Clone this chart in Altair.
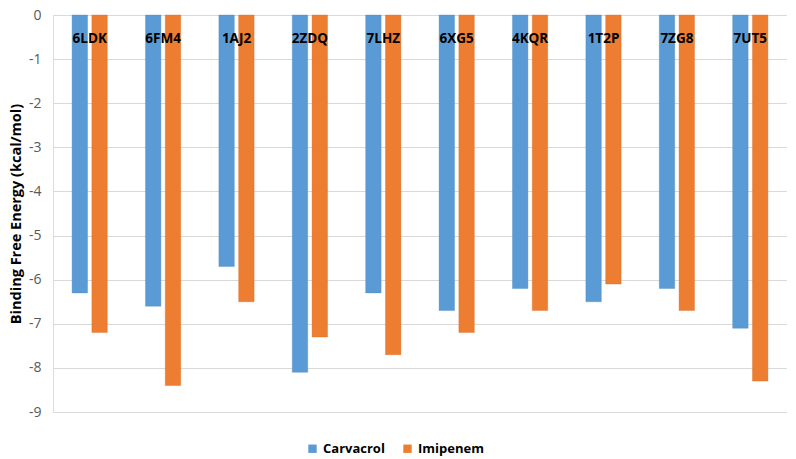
import altair as alt
import pandas as pd

proteins = ["6LDK", "6FM4", "1AJ2", "2ZDQ", "7LHZ", "6XG5", "4KQR", "1T2P", "7ZG8", "7UT5"]
carvacrol = [-6.3, -6.6, -5.7, -8.1, -6.3, -6.7, -6.2, -6.5, -6.2, -7.1]
imipenem = [-7.2, -8.4, -6.5, -7.3, -7.7, -7.2, -6.7, -6.1, -6.7, -8.3]
series = ["Carvacrol", "Imipenem"]
colors = ["#5b9bd5", "#ed7d31"]
y_ticks = [0, -1, -2, -3, -4, -5, -6, -7, -8, -9]

rows = []
for p, c, i in zip(proteins, carvacrol, imipenem):
    rows.append({"protein": p, "ligand": series[0], "energy": c})
    rows.append({"protein": p, "ligand": series[1], "energy": i})
df = pd.DataFrame(rows)

FONT = "Open Sans"

chart = alt.Chart(df).mark_bar(strokeWidth=0.6, strokeOpacity=0.6).encode(
    x=alt.X("protein:N", sort=proteins,
            scale=alt.Scale(paddingInner=0.52, paddingOuter=0.26),
            axis=alt.Axis(orient="top", title=None, domain=False, ticks=False,
                          grid=False, labelAngle=0, labelPadding=-23,
                          labelBaseline="middle", labelFont=FONT,
                          labelFontSize=13.5, labelFontWeight="bold",
                          labelColor="#000000", zindex=1)),
    xOffset=alt.XOffset("ligand:N", sort=series,
                        scale=alt.Scale(paddingInner=0.22)),
    y=alt.Y("energy:Q",
            scale=alt.Scale(domain=[-9, 0], nice=False),
            axis=alt.Axis(values=y_ticks, title="Binding Free Energy (kcal/mol)",
                          labelExpr="toString(datum.value)",
                          titleFont=FONT, titleFontSize=14.5, titleFontWeight="bold",
                          titleColor="#000000", titlePadding=5,
                          labelFont=FONT, labelFontSize=14, labelColor="#595959",
                          labelPadding=12, domain=False, ticks=False,
                          gridColor="#d9d9d9", gridWidth=1)),
    color=alt.Color("ligand:N", sort=series,
                    scale=alt.Scale(domain=series, range=colors),
                    legend=alt.Legend(orient="none", legendX=253, legendY=427,
                                      direction="horizontal",
                                      title=None, symbolType="square",
                                      symbolSize=70, symbolStrokeWidth=0,
                                      labelFont=FONT, labelFontSize=13,
                                      labelFontWeight="bold", labelColor="#000000",
                                      columnPadding=16)),
    stroke=alt.Stroke("ligand:N", sort=series,
                      scale=alt.Scale(domain=series, range=["#4a86bf", "#d46a22"]),
                      legend=None),
).properties(
    width=734, height=397,
    padding={"left": 0, "right": 0, "top": 0, "bottom": 0},
).configure_view(stroke=None).configure(background="#ffffff")

chart.save("out.html", embed_options={"renderer": "svg", "actions": False})
